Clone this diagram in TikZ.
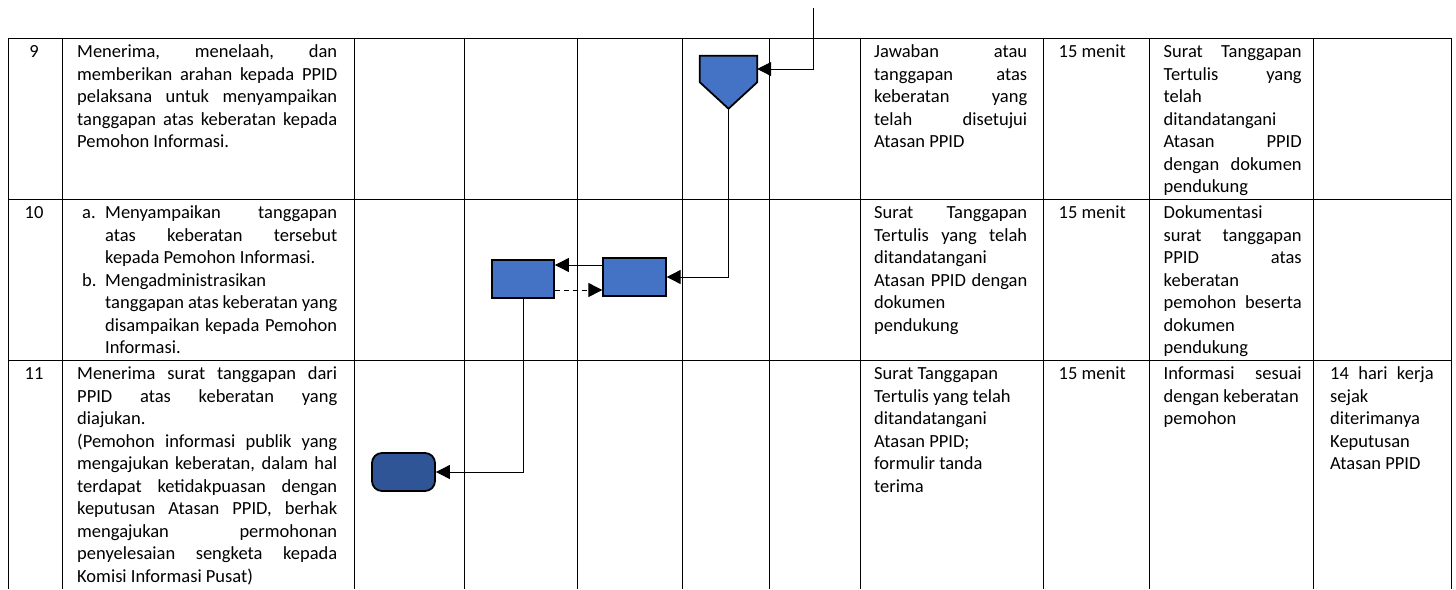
\documentclass[tikz,border=0pt]{standalone}
\usepackage{fontspec}
\setmainfont{Carlito}
\usetikzlibrary{arrows.meta,calc}
\definecolor{shapeblue}{HTML}{4472C4}
\definecolor{termblue}{HTML}{2F5597}
\newcommand\fsz{\fontsize{18.5}{22.5}\selectfont}
\newcommand\J[1]{\makebox[\linewidth][s]{#1}}
\newcommand\Lm[1]{\mbox{#1}}
\begin{document}
\begin{tikzpicture}[x=1pt,y=-1pt,
  grid/.style={line width=1pt, draw=black},
  cell/.style={anchor=base west, inner sep=0pt, font=\fsz},
  proc/.style={draw=black, line width=1.8pt, fill=shapeblue, inner sep=0pt},
  conn/.style={line width=0.9pt, -{Triangle[length=14pt,width=14pt]}},
  dashconn/.style={conn, dash pattern=on 5pt off 4pt}
]
\useasboundingbox (0,0) rectangle (1456,589);
% table grid
\foreach \y in {38,199.5,360.5} \draw[grid] (8,\y) -- (1451,\y);
\foreach \x in {8,62,354,464,577,682,769,860,1043.5,1149,1313.5,1451} \draw[grid] (\x,38) -- (\x,589);

% shapes
\node[minimum width=57pt, minimum height=52.5pt, inner sep=0pt] (pg) at (728.5,82.25) {};
\draw[line width=1.8pt, fill=shapeblue, line join=miter] (pg.north west) -- (pg.north east) -- (pg.east) -- (pg.south) -- (pg.west) -- cycle;
\node[proc, minimum width=62.5pt, minimum height=38pt] (b2) at (634.5,277) {};
\node[proc, minimum width=62pt, minimum height=38pt] (b1) at (523,279) {};
\node[proc, fill=termblue, rounded corners=10pt, minimum width=63pt, minimum height=38pt] (term) at (403.5,472) {};

% connectors
\coordinate (topin) at (813,8);
\draw[conn] (topin) |- ($(pg.north east)!0.5!(pg.east)$);
\draw[conn] (pg.south) |- (b2.east);
\draw[conn] (b2.west |- 0,265) -- (b1.east |- 0,265);
\draw[dashconn] (b1.east |- 0,290) -- (b2.west |- 0,290);
\draw[conn] (b1.south) |- (term.east);

% row 9
\node[cell, anchor=base] (n9) at (34,57.5) {9};
\node[cell] (r9c2) at (77,57.5) {\parbox[t]{260pt}{\J{Menerima, menelaah, dan}\\\J{memberikan arahan kepada PPID}\\\J{pelaksana untuk menyampaikan}\\\J{tanggapan atas keberatan kepada}\\\Lm{Pemohon Informasi.}}};
\node[cell] (r9c8) at (874,57.5) {\parbox[t]{153pt}{\J{Jawaban atau}\\\J{tanggapan atas}\\\J{keberatan yang}\\\J{telah disetujui}\\\Lm{Atasan PPID}}};
\node[cell] (r9c9) at (1058.5,57.5) {15 menit};
\node[cell] (r9c10) at (1163.5,57.5) {\parbox[t]{138pt}{\J{Surat Tanggapan}\\\J{Tertulis yang}\\\Lm{telah}\\\Lm{ditandatangani}\\\J{Atasan PPID}\\\J{dengan dokumen}\\\Lm{pendukung}}};

% row 10
\node[cell, anchor=base] (n10) at (34,218.5) {10};
\node[cell] (r10a) at (82,218.5) {a.};
\node[cell] (r10b) at (82,286) {b.};
\node[cell] (r10c2) at (105,218.5) {\parbox[t]{232pt}{\J{Menyampaikan tanggapan}\\\J{atas keberatan tersebut}\\\Lm{kepada Pemohon Informasi.}\\\Lm{Mengadministrasikan}\\\J{tanggapan atas keberatan yang}\\\J{disampaikan kepada Pemohon}\\\Lm{Informasi.}}};
\node[cell] (r10c8) at (874,218.5) {\parbox[t]{153pt}{\J{Surat Tanggapan}\\\J{Tertulis yang telah}\\\Lm{ditandatangani}\\\J{Atasan PPID dengan}\\\Lm{dokumen}\\\Lm{pendukung}}};
\node[cell] (r10c9) at (1058.5,218.5) {15 menit};
\node[cell] (r10c10) at (1163.5,218.5) {\parbox[t]{138pt}{\Lm{Dokumentasi}\\\J{surat tanggapan}\\\J{PPID atas}\\\Lm{keberatan}\\\J{pemohon beserta}\\\Lm{dokumen}\\\Lm{pendukung}}};

% row 11
\node[cell, anchor=base] (n11) at (34,379.5) {11};
\node[cell] (r11c2) at (77,379.5) {\parbox[t]{260pt}{\J{Menerima surat tanggapan dari}\\\J{PPID atas keberatan yang}\\\Lm{diajukan.}\\\J{(Pemohon informasi publik yang}\\\J{mengajukan keberatan, dalam hal}\\\J{terdapat ketidakpuasan dengan}\\\J{keputusan Atasan PPID, berhak}\\\J{mengajukan permohonan}\\\J{penyelesaian sengketa kepada}\\\Lm{Komisi Informasi Pusat)}}};
\node[cell] (r11c8) at (874,379.5) {\parbox[t]{153pt}{\Lm{Surat Tanggapan}\\\Lm{Tertulis yang telah}\\\Lm{ditandatangani}\\\Lm{Atasan PPID;}\\\Lm{formulir tanda}\\\Lm{terima}}};
\node[cell] (r11c9) at (1058.5,379.5) {15 menit};
\node[cell] (r11c10) at (1163.5,379.5) {\parbox[t]{138pt}{\J{Informasi sesuai}\\\Lm{dengan keberatan}\\\Lm{pemohon}}};
\node[cell] (r11c11) at (1330,379.5) {\parbox[t]{103.5pt}{\J{14 hari kerja}\\\Lm{sejak}\\\Lm{diterimanya}\\\Lm{Keputusan}\\\Lm{Atasan PPID}}};
\end{tikzpicture}
\end{document}
